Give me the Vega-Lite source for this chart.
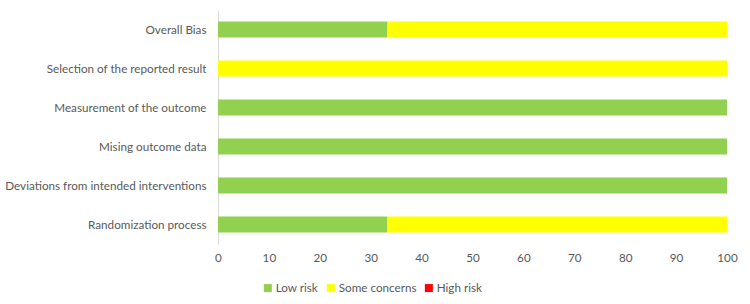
{
  "$schema": "https://vega.github.io/schema/vega-lite/v6.json",
  "autosize": "none",
  "width": 509,
  "height": 234,
  "padding": {"left": 218, "top": 10, "right": 23, "bottom": 60},
  "background": "white",
  "config": {
    "view": {"stroke": null},
    "font": "Lato",
    "axis": {"labelFont": "Lato", "labelColor": "#595959", "labelFontSize": 11.7, "grid": false, "ticks": false},
    "legend": {"labelFont": "Lato", "labelColor": "#595959", "labelFontSize": 11.7}
  },
  "data": {
    "values": [
      {"domain": "Overall Bias", "judgement": "Low risk", "k": 1, "pct": 33.3},
      {"domain": "Overall Bias", "judgement": "Some concerns", "k": 2, "pct": 66.7},
      {"domain": "Overall Bias", "judgement": "High risk", "k": 3, "pct": 0},
      {"domain": "Selection of the reported result", "judgement": "Low risk", "k": 1, "pct": 0},
      {"domain": "Selection of the reported result", "judgement": "Some concerns", "k": 2, "pct": 100},
      {"domain": "Selection of the reported result", "judgement": "High risk", "k": 3, "pct": 0},
      {"domain": "Measurement of the outcome", "judgement": "Low risk", "k": 1, "pct": 100},
      {"domain": "Measurement of the outcome", "judgement": "Some concerns", "k": 2, "pct": 0},
      {"domain": "Measurement of the outcome", "judgement": "High risk", "k": 3, "pct": 0},
      {"domain": "Mising outcome data", "judgement": "Low risk", "k": 1, "pct": 100},
      {"domain": "Mising outcome data", "judgement": "Some concerns", "k": 2, "pct": 0},
      {"domain": "Mising outcome data", "judgement": "High risk", "k": 3, "pct": 0},
      {"domain": "Deviations from intended interventions", "judgement": "Low risk", "k": 1, "pct": 100},
      {"domain": "Deviations from intended interventions", "judgement": "Some concerns", "k": 2, "pct": 0},
      {"domain": "Deviations from intended interventions", "judgement": "High risk", "k": 3, "pct": 0},
      {"domain": "Randomization process", "judgement": "Low risk", "k": 1, "pct": 33.3},
      {"domain": "Randomization process", "judgement": "Some concerns", "k": 2, "pct": 66.7},
      {"domain": "Randomization process", "judgement": "High risk", "k": 3, "pct": 0}
    ]
  },
  "mark": {"type": "bar", "size": 16},
  "encoding": {
    "y": {
      "field": "domain",
      "type": "nominal",
      "sort": ["Overall Bias", "Selection of the reported result", "Measurement of the outcome", "Mising outcome data", "Deviations from intended interventions", "Randomization process"],
      "title": null,
      "axis": {"domainColor": "#D9D9D9", "labelPadding": 12, "labelLimit": 300}
    },
    "x": {
      "field": "pct",
      "type": "quantitative",
      "stack": "zero",
      "scale": {"domain": [0, 100], "nice": false},
      "title": null,
      "axis": {"domain": false, "values": [0, 10, 20, 30, 40, 50, 60, 70, 80, 90, 100], "labelPadding": 8, "labelFlush": false}
    },
    "color": {
      "field": "judgement",
      "type": "nominal",
      "scale": {"domain": ["Low risk", "Some concerns", "High risk"], "range": ["#92D050", "#FFFF00", "#FF0000"]},
      "legend": {"title": null, "orient": "none", "direction": "horizontal", "legendX": 44, "legendY": 272, "symbolType": "square", "symbolSize": 64, "symbolStrokeWidth": 0, "labelOffset": 2, "columnPadding": 6}
    },
    "order": {"field": "k", "type": "quantitative"}
  }
}
